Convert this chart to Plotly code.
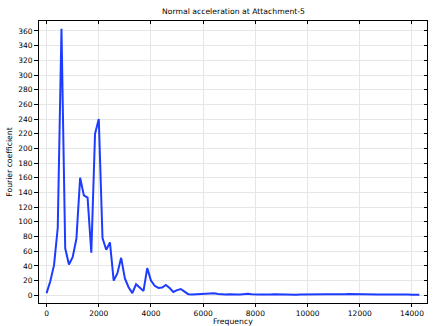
import plotly.graph_objects as go

# Frequency step (Hz) and Fourier coefficient values
freq_step = 1000.0 / 7.0
coeff = [
    3, 19, 41, 92, 363, 64, 42, 52, 77, 160,
    136, 133, 58, 220, 240, 78, 62, 72, 20, 30,
    51, 23, 11, 3, 15, 11, 6, 37, 20, 13,
    10, 10.5, 14, 10, 4.5, 7, 8.5, 5, 1.5, 1,
    1.2, 1, 1.3, 1.5, 2.2, 2.8, 1.8, 1.2, 1, 1.3,
    1.6, 1.2, 1, 1.6, 2.2, 1.4, 0.9, 1, 1.2, 0.8,
    1, 1.3, 1.1, 0.9, 1.2, 1.4, 1.1, 0.9, 1, 1.2,
    1.4, 1.2, 1, 1.1, 1.3, 1.5, 1.3, 1.1, 1, 1.2,
    1.4, 1.6, 1.4, 1.2, 1.1, 1.3, 1.5, 1.3, 1.1, 1,
    1.2, 1.3, 1.1, 0.9, 1, 1.1, 1.2, 1, 0.9, 1, 0.9,
]
freq = [i * freq_step for i in range(len(coeff))]

title_text = "Normal acceleration at Attachment-5"
x_title = "Frequency"
y_title = "Fourier coefficient"
x_ticks = list(range(0, 14001, 2000))
y_ticks = list(range(0, 361, 20))

x_range = [-290, 14576]
y_range = [-10.5, 373.6]

FONT = "DejaVu Sans"

fig = go.Figure()
fig.add_trace(go.Scatter(
    x=freq, y=coeff, mode="lines",
    line=dict(color="rgb(30,60,255)", width=2),
    showlegend=False, hoverinfo="skip",
))
# empty trace to host the mirrored (top/right) axes with inward ticks
fig.add_trace(go.Scatter(x=[], y=[], xaxis="x2", yaxis="y2",
                         showlegend=False, hoverinfo="skip"))

axis_common = dict(
    showline=True, linecolor="black", linewidth=1,
    showgrid=True, gridcolor="#e6e6e6", gridwidth=1,
    zeroline=False, tickwidth=1, tickcolor="black",
    tickfont=dict(family=FONT, size=7.5, color="black"),
    automargin=False,
)

fig.update_layout(
    width=438, height=326,
    margin=dict(l=39, r=11, t=21, b=23, pad=0),
    paper_bgcolor="white", plot_bgcolor="white",
    title=dict(text=title_text, x=0.533, xanchor="center", y=0.975, yanchor="top",
               font=dict(family=FONT, size=7.7, color="black")),
    xaxis=dict(
        range=x_range, tickmode="array", tickvals=x_ticks,
        ticktext=[str(v) for v in x_ticks], ticks="outside", ticklen=3,
        **axis_common,
    ),
    yaxis=dict(
        range=y_range, tickmode="array", tickvals=y_ticks,
        ticktext=[str(v) for v in y_ticks], ticks="outside", ticklen=4,
        title=dict(text=y_title, standoff=4,
                   font=dict(family=FONT, size=7.7, color="black")),
        **axis_common,
    ),
    xaxis2=dict(
        range=x_range, overlaying="x", side="top", anchor="y",
        tickmode="array", tickvals=x_ticks, ticks="inside", ticklen=3,
        showticklabels=False, showgrid=False, showline=True,
        linecolor="black", linewidth=1, zeroline=False, tickcolor="black",
    ),
    yaxis2=dict(
        range=y_range, overlaying="y", side="right", anchor="x",
        tickmode="array", tickvals=y_ticks, ticks="inside", ticklen=3,
        showticklabels=False, showgrid=False, showline=True,
        linecolor="black", linewidth=1, zeroline=False, tickcolor="black",
    ),
    annotations=[dict(
        text=x_title, xref="paper", yref="paper", x=0.5, y=-0.064,
        xanchor="center", yanchor="middle", showarrow=False,
        font=dict(family=FONT, size=7.7, color="black"),
    )],
)

fig.write_html("out.html")
